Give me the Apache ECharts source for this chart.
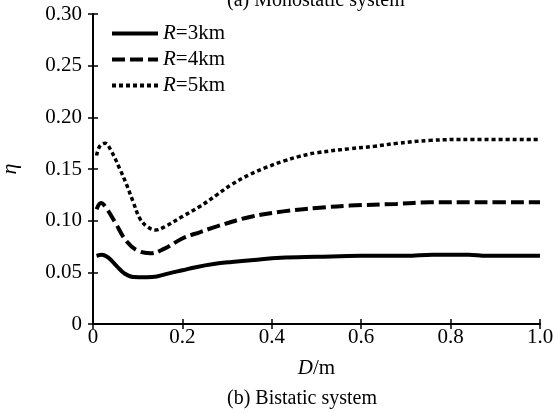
<!DOCTYPE html>
<html>
<head>
<meta charset="utf-8">
<script src="https://cdn.jsdelivr.net/npm/echarts@6/dist/echarts.min.js"></script>
<style>
  html, body { margin: 0; padding: 0; background: #fff; }
  #chart { width: 555px; height: 412px; }
</style>
</head>
<body>
<div id="chart"></div>
<script>
// series names
var seriesNames = ['R=3km', 'R=4km', 'R=5km']

// [D (m), eta]
var r3 = [[0.008, 0.066], [0.02, 0.067], [0.035, 0.064], [0.053, 0.056], [0.07, 0.049], [0.09, 0.0455],
  [0.12, 0.0453], [0.143, 0.046], [0.17, 0.049], [0.2, 0.052], [0.23, 0.055], [0.27, 0.058],
  [0.31, 0.060], [0.36, 0.062], [0.42, 0.064], [0.5, 0.065], [0.6, 0.066], [0.7, 0.066],
  [0.76, 0.067], [0.84, 0.067], [0.88, 0.066], [1.0, 0.066]]
var r4 = [[0.008, 0.111], [0.018, 0.117], [0.03, 0.112], [0.05, 0.098], [0.075, 0.080], [0.1, 0.071],
  [0.128, 0.0685], [0.16, 0.073], [0.202, 0.0832], [0.24, 0.089], [0.277, 0.0945], [0.351, 0.1036],
  [0.426, 0.109], [0.5, 0.1123], [0.575, 0.1146], [0.679, 0.1162], [0.754, 0.1178], [0.87, 0.1178],
  [1.0, 0.1178]]
var r5 = [[0.008, 0.163], [0.015, 0.172], [0.027, 0.175], [0.04, 0.168], [0.06, 0.150], [0.075, 0.135],
  [0.09, 0.118], [0.105, 0.102], [0.122, 0.094], [0.14, 0.091], [0.16, 0.094], [0.2, 0.104],
  [0.24, 0.114], [0.277, 0.125], [0.31, 0.135], [0.351, 0.1447], [0.39, 0.152], [0.426, 0.1576],
  [0.46, 0.162], [0.5, 0.1657], [0.575, 0.1696], [0.63, 0.172], [0.679, 0.1748], [0.754, 0.1777],
  [0.85, 0.1786], [1.0, 0.1786]]

// axis ticks
var xTicks = { min: 0, max: 1.0, interval: 0.2 }
var yTicks = { min: 0, max: 0.30, interval: 0.05 }

var font = 'Liberation Serif'
var chart = echarts.init(document.getElementById('chart'))

function mirrorAxis(pos, range) {
  return {
    type: 'value',
    position: pos,
    min: range.min,
    max: range.max,
    interval: range.interval,
    axisLine: { show: true, lineStyle: { color: '#000', width: 2 } },
    axisTick: { show: true, inside: true, length: 5, lineStyle: { color: '#000', width: 1.5 } },
    axisLabel: { show: false },
    splitLine: { show: false }
  }
}

chart.setOption({
  animation: false,
  title: [
    {
      text: '(a) Monostatic system',
      left: 222,
      top: -14,
      textStyle: { fontFamily: font, fontWeight: 'normal', fontSize: 20, color: '#000' }
    },
    {
      text: '(b) Bistatic system',
      left: 222,
      top: 384,
      textStyle: { fontFamily: font, fontWeight: 'normal', fontSize: 20, color: '#000' }
    }
  ],
  grid: { left: 93, right: 15, top: 14, bottom: 88, outerBoundsMode: 'none', containLabel: false },
  legend: {
    data: seriesNames,
    orient: 'vertical',
    left: 105,
    top: 18,
    itemWidth: 46,
    itemHeight: 14,
    itemGap: 5,
    itemStyle: { opacity: 0 },
    lineStyle: { width: 4 },
    formatter: function(name) {
      return '{i|R}' + name.slice(1)
    },
    textStyle: {
      fontFamily: font,
      fontSize: 21,
      color: '#000',
      rich: { i: { fontFamily: font, fontStyle: 'italic', fontSize: 21, color: '#000' } }
    }
  },
  xAxis: [
    {
      type: 'value',
      min: xTicks.min,
      max: xTicks.max,
      interval: xTicks.interval,
      name: '{i|D}/m',
      nameLocation: 'middle',
      nameGap: 34,
      nameTextStyle: {
        fontFamily: font,
        fontSize: 21,
        color: '#000',
        rich: { i: { fontFamily: font, fontStyle: 'italic', fontSize: 21, color: '#000' } }
      },
      axisLine: { show: true, lineStyle: { color: '#000', width: 2 } },
      axisTick: { show: true, inside: true, length: 5, lineStyle: { color: '#000', width: 1.5 } },
      axisLabel: {
        margin: 3,
        fontFamily: font,
        fontSize: 21,
        color: '#000',
        formatter: function(v) { return v === 0 ? '0' : v.toFixed(1) }
      },
      splitLine: { show: false }
    },
    mirrorAxis('top', xTicks)
  ],
  yAxis: [
    {
      type: 'value',
      min: yTicks.min,
      max: yTicks.max,
      interval: yTicks.interval,
      name: 'η',
      nameLocation: 'middle',
      nameGap: 72,
      nameRotate: 90,
      nameTextStyle: { fontFamily: font, fontStyle: 'italic', fontSize: 22, color: '#000' },
      axisLine: { show: true, lineStyle: { color: '#000', width: 2 } },
      axisTick: { show: true, inside: true, length: 5, lineStyle: { color: '#000', width: 1.5 } },
      axisLabel: {
        margin: 11,
        fontFamily: font,
        fontSize: 21,
        color: '#000',
        formatter: function(v) { return v === 0 ? '0' : v.toFixed(2) }
      },
      splitLine: { show: false }
    },
    mirrorAxis('right', yTicks)
  ],
  series: [
    {
      name: seriesNames[0],
      type: 'line',
      data: r3,
      smooth: 0.4,
      symbol: 'none',
      lineStyle: { color: '#000', width: 4, type: 'solid' },
      itemStyle: { color: '#000' }
    },
    {
      name: seriesNames[1],
      type: 'line',
      data: r4,
      smooth: 0.4,
      symbol: 'none',
      lineStyle: { color: '#000', width: 4, type: [13, 5] },
      itemStyle: { color: '#000' }
    },
    {
      name: seriesNames[2],
      type: 'line',
      data: r5,
      smooth: 0.4,
      symbol: 'none',
      lineStyle: { color: '#000', width: 3.5, type: [4, 3] },
      itemStyle: { color: '#000' }
    }
  ]
})
</script>
</body>
</html>
